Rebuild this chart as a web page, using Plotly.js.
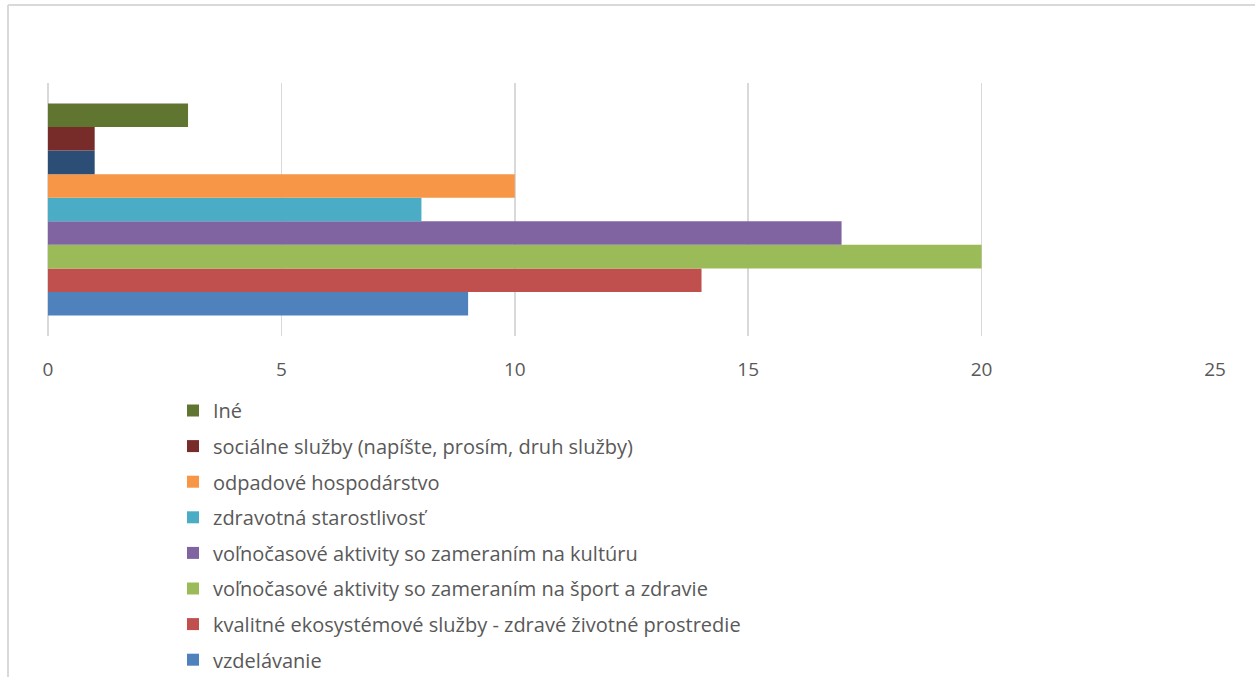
<!DOCTYPE html>
<html>
<head>
<meta charset="utf-8">
<script src="https://cdn.plot.ly/plotly-3.0.1.min.js"></script>
<style>
  html, body { margin: 0; padding: 0; background: #fff; }
  #chart { width: 1255px; height: 677px; }
</style>
</head>
<body>
<div id="chart"></div>
<script>
// Series listed bottom-to-top as drawn
const seriesNames = [
  "vzdelávanie",
  "kvalitné ekosystémové služby - zdravé životné prostredie",
  "voľnočasové aktivity so zameraním na šport a zdravie",
  "voľnočasové aktivity so zameraním na kultúru",
  "zdravotná starostlivosť",
  "odpadové hospodárstvo",
  "ďalšie",
  "sociálne služby (napíšte, prosím, druh služby)",
  "Iné"
];
const seriesValues = [9, 14, 20, 17, 8, 10, 1, 1, 3];
const seriesInLegend = [true, true, true, true, true, true, false, true, true];
const seriesColors = ["#4F81BD", "#C0504D", "#9BBB59", "#8064A2", "#4BACC6", "#F79646", "#2C4D75", "#772C2A", "#5F7530"];
const category = [""];
const xTicks = [0, 5, 10, 15, 20, 25];

const traces = seriesNames.map((name, i) => ({
  type: "bar",
  orientation: "h",
  name: name,
  x: [seriesValues[i]],
  y: category,
  marker: { color: seriesColors[i], line: { width: 0 } },
  showlegend: seriesInLegend[i],
  legendgroup: "g" + i,
  legendrank: 1000 - i,
  hoverinfo: "x+name"
}));

const W = 1255, H = 677;
const L = 48, R = 40, T = 83, B = 341;
const pw = W - L - R, ph = H - T - B;
const px = v => (v - L) / pw;
const py = v => (H - B - v) / ph;

const layout = {
  width: W, height: H,
  margin: { l: L, r: R, t: T, b: B, pad: 0, autoexpand: false },
  paper_bgcolor: "#ffffff",
  plot_bgcolor: "#ffffff",
  font: { family: "Open Sans, Liberation Sans, sans-serif", color: "#595959", size: 19 },
  barmode: "group",
  bargap: 0.162,
  bargroupgap: 0,
  xaxis: {
    range: [0, 25],
    tickvals: xTicks,
    ticktext: xTicks.map(String),
    showgrid: true,
    gridcolor: "#D9D9D9",
    gridwidth: 1.5,
    zeroline: true,
    zerolinecolor: "#D9D9D9",
    zerolinewidth: 1.5,
    showline: false,
    ticks: "",
    ticklabelstandoff: 20,
    tickfont: { size: 19, color: "#595959" },
    automargin: false,
    fixedrange: true
  },
  yaxis: {
    type: "category",
    showticklabels: false,
    showgrid: false,
    zeroline: false,
    showline: false,
    ticks: "",
    automargin: false,
    fixedrange: true
  },
  legend: {
    x: px(173), xanchor: "left",
    y: py(391), yanchor: "top",
    traceorder: "grouped",
    tracegroupgap: 6.6,
    bgcolor: "rgba(0,0,0,0)",
    font: { size: 20, color: "#595959" }
  },
  shapes: [
    { type: "line", xref: "paper", yref: "paper", x0: px(8), x1: px(8), y0: py(5), y1: py(H + 5), line: { color: "#D9D9D9", width: 2 } },
    { type: "line", xref: "paper", yref: "paper", x0: px(8), x1: px(W + 5), y0: py(5), y1: py(5), line: { color: "#D9D9D9", width: 2 } }
  ],
  showlegend: true
};

Plotly.newPlot("chart", traces, layout, { displayModeBar: false, staticPlot: true });
</script>
</body>
</html>
